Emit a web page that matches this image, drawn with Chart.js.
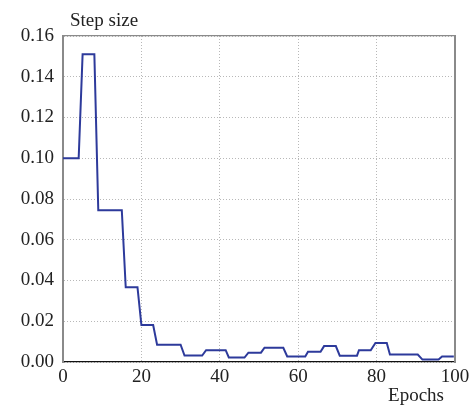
<!DOCTYPE html>
<html>
<head>
<meta charset="utf-8">
<script src="https://cdn.jsdelivr.net/npm/chart.js@4.4.0/dist/chart.umd.min.js"></script>
<style>
html, body { margin: 0; padding: 0; background: #fff; }
#wrap { width: 475px; height: 405px; position: relative; }
</style>
</head>
<body>
<div id="wrap"><canvas id="stepChart"></canvas></div>
<script>
// corner points of the step-size curve
const epochs = [0, 4, 5, 8, 9, 15, 16, 19, 20, 23, 24, 30, 31, 35.5, 36.5, 41.5, 42.3, 46.3, 47.3, 50.5,
    51.4, 56.2, 57.2, 61.8, 62.5, 65.7, 66.6, 69.6, 70.6, 75, 75.5, 78.5, 79.7, 82.6, 83.4, 90.5,
    91.7, 95.8, 96.7, 99.7];
const stepSizes = [0.100, 0.100, 0.151, 0.151, 0.0745, 0.0745, 0.0367, 0.0367, 0.0181, 0.0181, 0.0085, 0.0085,
    0.0032, 0.0032, 0.0058, 0.0058, 0.0022, 0.0022, 0.0046, 0.0046, 0.0070, 0.0070, 0.0027, 0.0027,
    0.0050, 0.0050, 0.0078, 0.0078, 0.0031, 0.0031, 0.0058, 0.0058, 0.0093, 0.0093, 0.0037, 0.0037,
    0.0012, 0.0012, 0.0027, 0.0027];
const xTicks = [0, 20, 40, 60, 80, 100];
const yTicks = [0, 0.02, 0.04, 0.06, 0.08, 0.10, 0.12, 0.14, 0.16];
const xLabel = "Epochs";
const yLabel = "Step size";

const FONT = '"Liberation Serif", "Times New Roman", serif';

const axisTitles = {
    id: "axisTitles",
    afterDraw(chart) {
        const { ctx, chartArea } = chart;
        ctx.save();
        ctx.font = "19px " + FONT;
        ctx.fillStyle = "#222";
        ctx.textAlign = "left";
        ctx.fillText(yLabel, chartArea.left + 7, 26);
        ctx.textAlign = "right";
        ctx.fillText(xLabel, chartArea.right - 11, 401);
        ctx.restore();
    }
};

const points = epochs.map((e, i) => ({ x: e, y: stepSizes[i] }));

new Chart(document.getElementById("stepChart"), {
    type: "line",
    data: {
        datasets: [{
            data: points,
            borderColor: "#2d3a9b",
            borderWidth: 2,
            pointRadius: 0,
            tension: 0,
            fill: false
        }]
    },
    options: {
        responsive: true,
        maintainAspectRatio: false,
        animation: false,
        layout: { padding: { top: 36, right: 20, left: 0, bottom: 0 } },
        plugins: { legend: { display: false }, tooltip: { enabled: false } },
        scales: {
            x: {
                type: "linear",
                min: 0,
                max: 100,
                afterBuildTicks: axis => { axis.ticks = xTicks.map(v => ({ value: v })); },
                afterFit: scale => { scale.height = 43; },
                ticks: {
                    font: { family: FONT, size: 19 },
                    color: "#222",
                    padding: 4,
                    maxRotation: 0
                },
                grid: {
                    color: "#b8b8b8",
                    lineWidth: 1,
                    drawTicks: false
                },
                border: { color: "#111", width: 1.3, dash: [1, 2] }
            },
            xTop: {
                type: "linear",
                position: "top",
                min: 0,
                max: 100,
                ticks: { display: false },
                grid: { display: false, drawTicks: false },
                border: { color: "#8a8a8a", width: 1.2 },
                afterFit: scale => { scale.height = 0; }
            },
            y: {
                min: 0,
                max: 0.16,
                afterBuildTicks: axis => { axis.ticks = yTicks.map(v => ({ value: v })); },
                afterFit: scale => { scale.width = 63; },
                ticks: {
                    font: { family: FONT, size: 19 },
                    color: "#222",
                    padding: 9,
                    callback: v => v.toFixed(2)
                },
                grid: {
                    color: "#b8b8b8",
                    lineWidth: 1,
                    drawTicks: false
                },
                border: { color: "#8a8a8a", width: 2, dash: [1, 2] }
            },
            yRight: {
                position: "right",
                min: 0,
                max: 0.16,
                ticks: { display: false },
                grid: { display: false, drawTicks: false },
                border: { color: "#8a8a8a", width: 2 },
                afterFit: scale => { scale.width = 0; }
            }
        }
    },
    plugins: [axisTitles]
});
</script>
</body>
</html>
